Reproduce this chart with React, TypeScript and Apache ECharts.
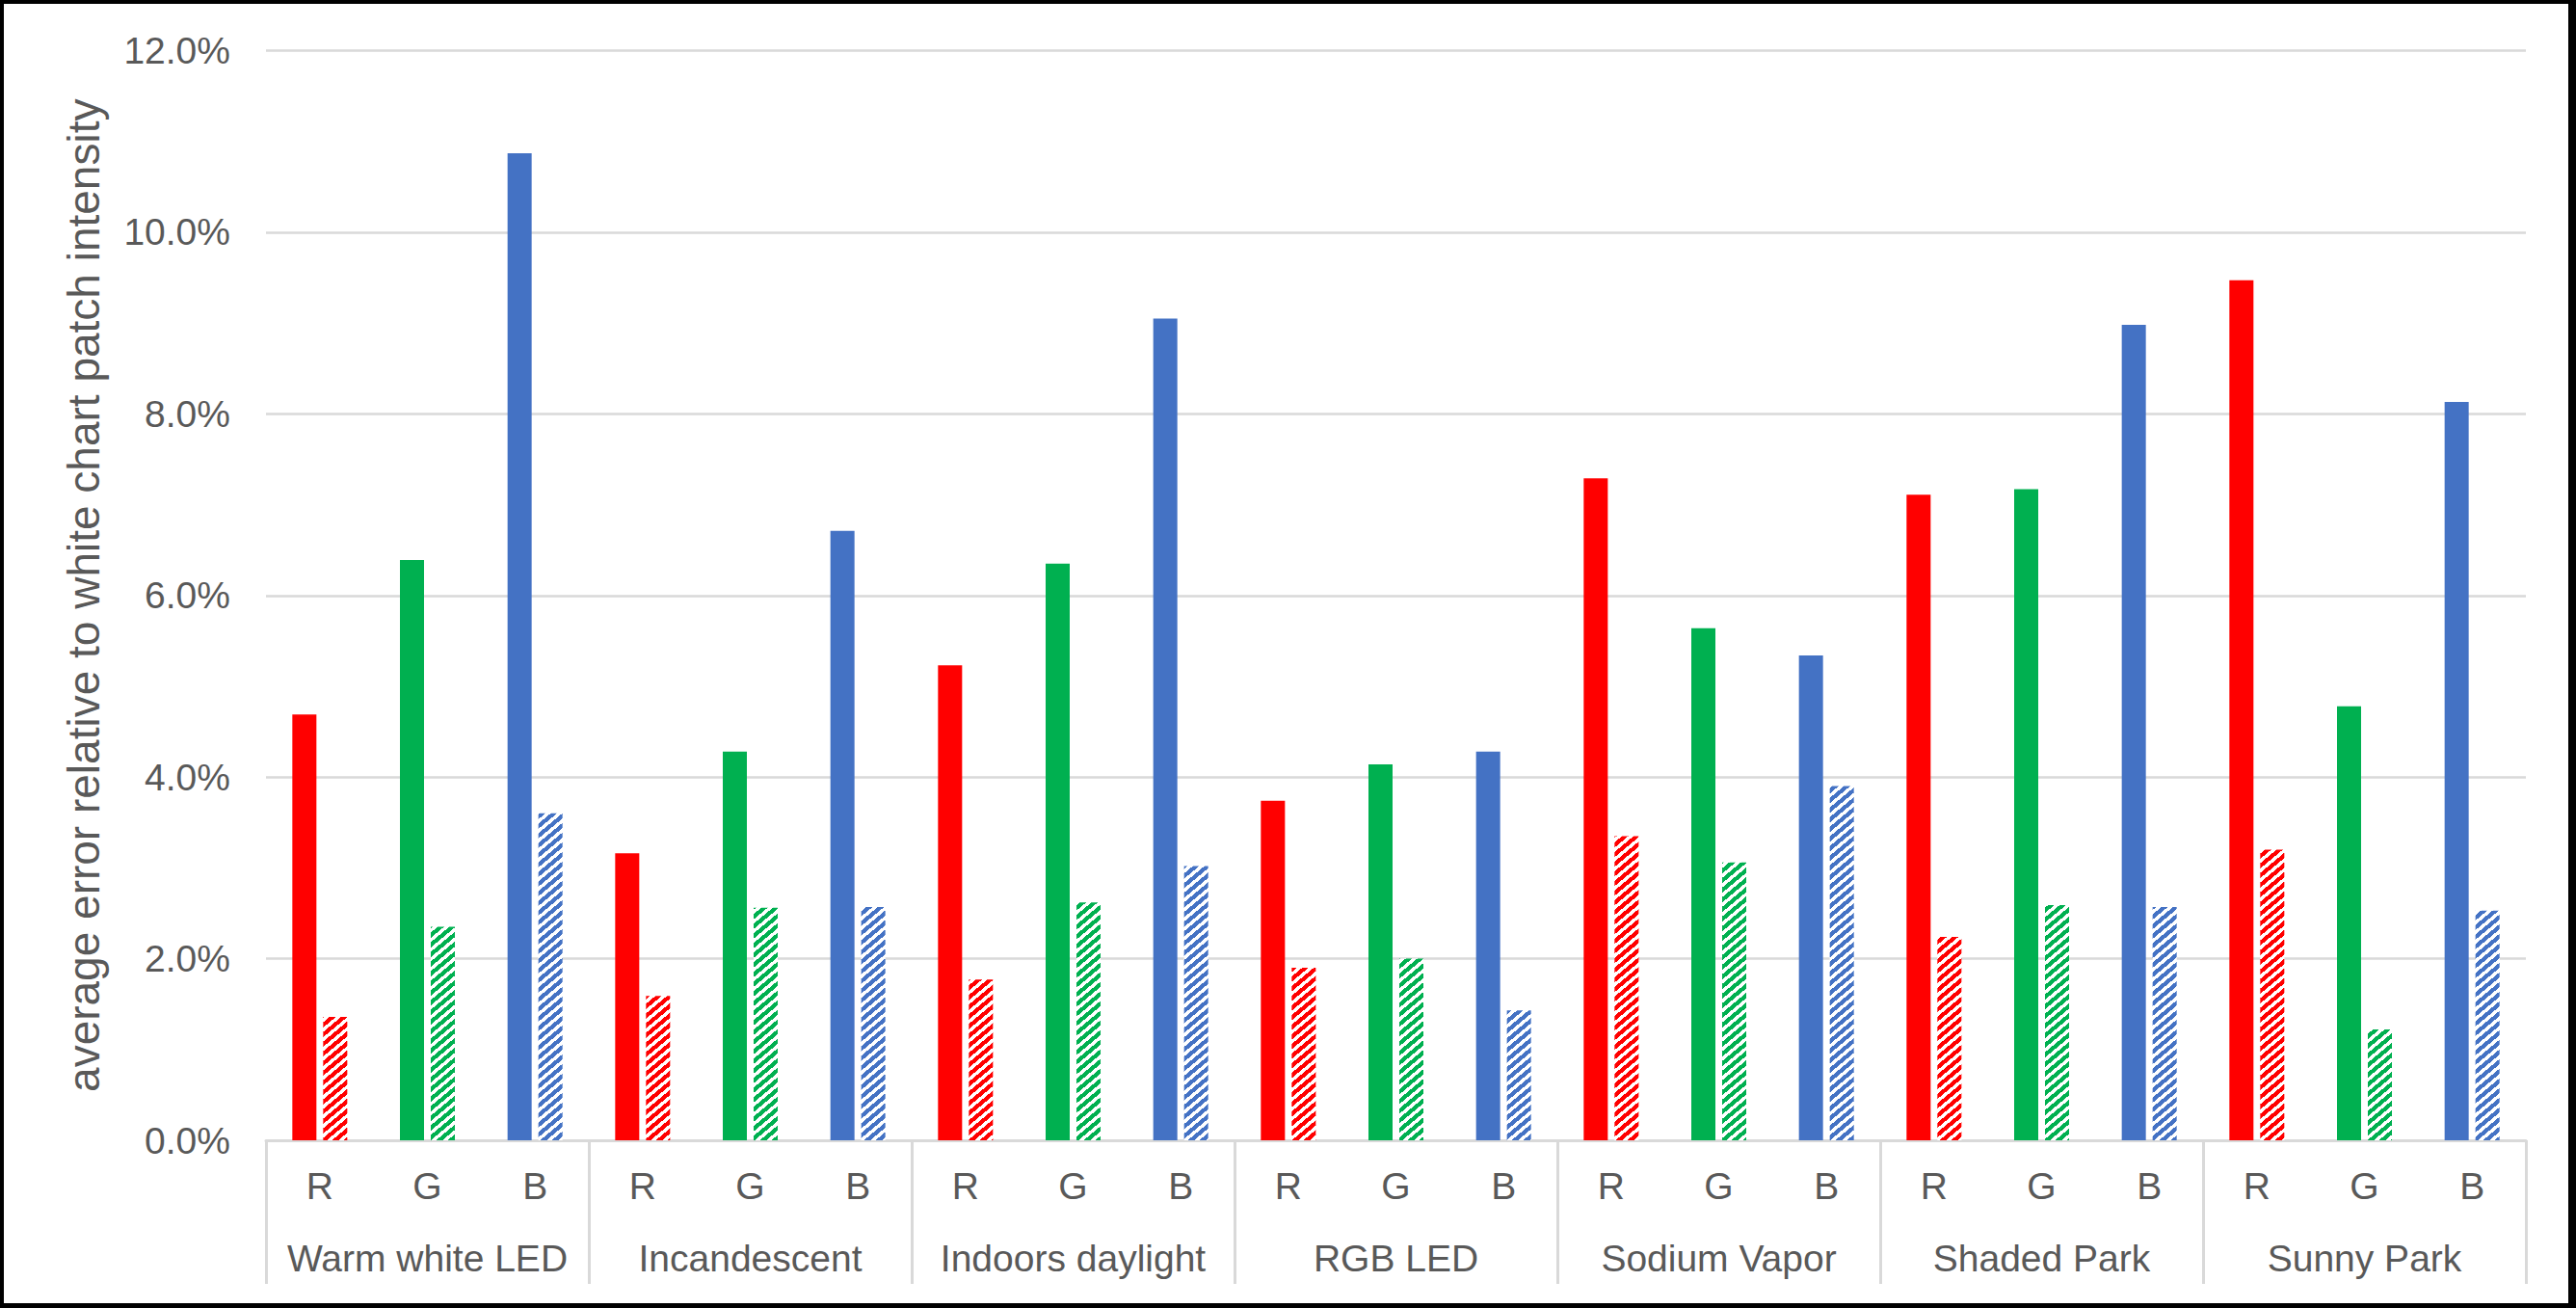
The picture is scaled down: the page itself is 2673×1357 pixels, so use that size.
import React, { useEffect, useRef } from "react";
import * as echarts from "echarts";

const groups = [
  "Warm white LED",
  "Incandescent",
  "Indoors daylight",
  "RGB LED",
  "Sodium Vapor",
  "Shaded Park",
  "Sunny Park",
];
const channels = ["R", "G", "B"];
// values in percent, order: group by group, R G B
const solidValues = [
  4.69, 6.39, 10.87,
  3.16, 4.28, 6.71,
  5.23, 6.35, 9.05,
  3.74, 4.14, 4.28,
  7.29, 5.64, 5.34,
  7.11, 7.17, 8.98,
  9.47, 4.78, 8.13,
];
const hatchedValues = [
  1.36, 2.35, 3.6,
  1.59, 2.56, 2.57,
  1.77, 2.62, 3.02,
  1.9, 2.0, 1.43,
  3.35, 3.06, 3.9,
  2.24, 2.59, 2.57,
  3.2, 1.22, 2.53,
];
const yTicks = { min: 0, max: 12, interval: 2 };
const channelColors = ["#FF0000", "#00B050", "#4472C4"];

const FONT = "'Liberation Sans', Arial, sans-serif";
const TEXT = "#595959";
const LINE = "#D9D9D9";

function makeHatch(hex: string) {
  const w = 12;
  const h = 10;
  const c = document.createElement("canvas");
  c.width = w;
  c.height = h;
  const ctx = c.getContext("2d")!;
  const img = ctx.createImageData(w, h);
  const r = parseInt(hex.slice(1, 3), 16);
  const g = parseInt(hex.slice(3, 5), 16);
  const b = parseInt(hex.slice(5, 7), 16);
  for (let y = 0; y < h; y++) {
    for (let x = 0; x < w; x++) {
      const f = (((x + 0.5) / w + (y + 0.5) / h) % 1 + 1) % 1;
      const on = f < 0.55;
      const i = (y * w + x) * 4;
      img.data[i] = on ? r : 255;
      img.data[i + 1] = on ? g : 255;
      img.data[i + 2] = on ? b : 255;
      img.data[i + 3] = 255;
    }
  }
  ctx.putImageData(img, 0, 0);
  return { image: c, repeat: "repeat", imageWidth: w, imageHeight: h } as any;
}

export default function App() {
  const ref = useRef<HTMLDivElement>(null);
  useEffect(() => {
    if (!ref.current) return;
    const chart = echarts.init(ref.current, undefined, { renderer: "svg" });
    const categories: string[] = [];
    groups.forEach(() => channels.forEach((c) => categories.push(c)));
    const hatches = channelColors.map(makeHatch);
    const option: any = {
      animation: false,
      backgroundColor: "#FFFFFF",
      textStyle: { fontFamily: FONT },
      grid: { left: 276, right: 52, top: 52.5, bottom: 174, containLabel: false },
      xAxis: [
        {
          type: "category",
          data: categories,
          position: "bottom",
          axisLine: { show: true, lineStyle: { color: LINE, width: 3 } },
          axisTick: { show: false },
          axisLabel: {
            interval: 0,
            margin: 28,
            fontSize: 39,
            color: TEXT,
            fontFamily: FONT,
          },
          splitLine: { show: false },
        },
        {
          type: "category",
          data: groups,
          position: "bottom",
          axisLine: { show: false },
          axisTick: {
            show: true,
            length: 149,
            interval: 0,
            lineStyle: { color: LINE, width: 3 },
          },
          axisLabel: {
            interval: 0,
            margin: 103,
            fontSize: 39,
            color: TEXT,
            fontFamily: FONT,
          },
          splitLine: { show: false },
        },
      ],
      yAxis: {
        type: "value",
        min: yTicks.min,
        max: yTicks.max,
        interval: yTicks.interval,
        name: "average error relative to white chart patch intensity",
        nameLocation: "middle",
        nameGap: 166,
        nameTextStyle: { fontSize: 46, color: TEXT, fontFamily: FONT },
        axisLine: { show: false },
        axisTick: { show: false },
        axisLabel: {
          margin: 37,
          fontSize: 39,
          color: TEXT,
          fontFamily: FONT,
          formatter: (v: number) => v.toFixed(1) + "%",
        },
        splitLine: { show: true, lineStyle: { color: LINE, width: 2.5 } },
      },
      series: [
        {
          type: "bar",
          name: "solid",
          xAxisIndex: 0,
          barWidth: 25,
          barGap: "28%",
          data: solidValues.map((v, i) => ({
            value: v,
            itemStyle: { color: channelColors[i % 3] },
          })),
        },
        {
          type: "bar",
          name: "hatched",
          xAxisIndex: 0,
          barWidth: 25,
          barGap: "28%",
          data: hatchedValues.map((v, i) => ({
            value: v,
            itemStyle: { color: hatches[i % 3] },
          })),
        },
      ],
    };
    chart.setOption(option);
    return () => chart.dispose();
  }, []);
  return (
    <div style={{ position: "fixed", left: 0, top: 0, width: 2673, height: 1357, background: "#fff" }}>
      <div ref={ref} style={{ position: "absolute", left: 0, top: 0, width: 2673, height: 1357 }} />
      <div
        style={{
          position: "absolute",
          left: 0,
          top: 0,
          width: 2673,
          height: 1357,
          boxSizing: "border-box",
          borderStyle: "solid",
          borderColor: "#000",
          borderWidth: "4px 8px 5px 4px",
          pointerEvents: "none",
        }}
      />
    </div>
  );
}
